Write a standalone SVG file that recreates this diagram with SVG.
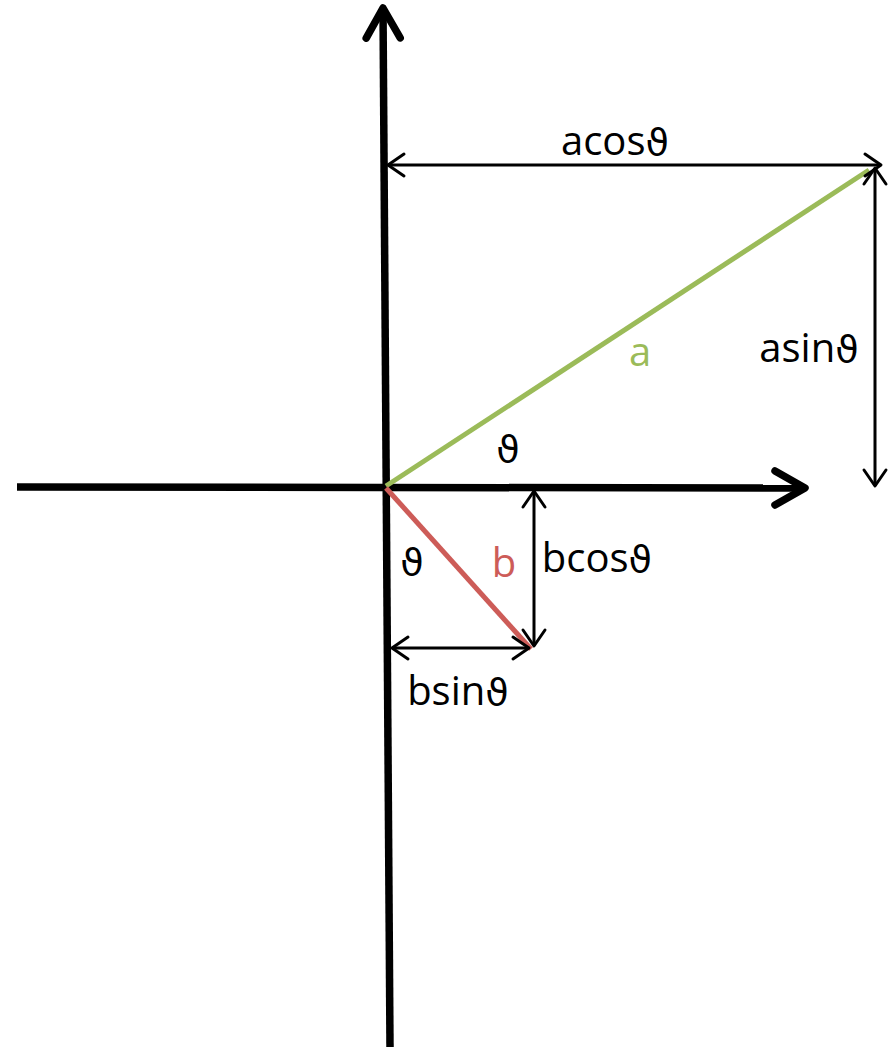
<svg xmlns="http://www.w3.org/2000/svg" width="896" height="1050" viewBox="0 0 896 1050">
<style>
.axis{stroke:#000;stroke-width:7.5;fill:none}
.dim{stroke:#000;stroke-width:3;fill:none}
.t{font-family:"Open Sans","DejaVu Sans",sans-serif;font-size:40px;fill:#000}
.th{font-family:"DejaVu Sans",sans-serif;font-size:38px}
</style>
<defs>
<marker id="ah" markerUnits="userSpaceOnUse" viewBox="-40 -25 50 50" markerWidth="50" markerHeight="50" refX="0" refY="0" orient="auto" overflow="visible">
<path d="M-30,-17 L0,0 L-30,17" fill="none" stroke="#000" stroke-width="7.5" stroke-linecap="round" stroke-linejoin="round"/>
</marker>
<marker id="dh" markerUnits="userSpaceOnUse" viewBox="-20 -15 25 30" markerWidth="25" markerHeight="30" refX="0" refY="0" orient="auto-start-reverse" overflow="visible">
<path d="M-16,-11 L0,0 L-16,11" fill="none" stroke="#000" stroke-width="3" stroke-linecap="round" stroke-linejoin="round"/>
</marker>
</defs>
<g id="connectors">
<line id="x-axis" class="axis" x1="17" y1="487" x2="805" y2="488" marker-end="url(#ah)"/>
<line id="y-axis" class="axis" x1="390" y1="1047" x2="383" y2="8" marker-end="url(#ah)"/>
<line id="vec-a" x1="386" y1="486" x2="869" y2="170" stroke="#9bbb59" stroke-width="5"/>
<line id="vec-b" x1="386" y1="488" x2="531" y2="649" stroke="#cd5c58" stroke-width="5"/>
<line id="dim-acos" class="dim" x1="388" y1="165" x2="881" y2="165" marker-start="url(#dh)" marker-end="url(#dh)"/>
<line id="dim-asin" class="dim" x1="875" y1="168" x2="875" y2="486" marker-start="url(#dh)" marker-end="url(#dh)"/>
<line id="dim-bcos" class="dim" x1="534" y1="491" x2="534" y2="646" marker-start="url(#dh)" marker-end="url(#dh)"/>
<line id="dim-bsin" class="dim" x1="392" y1="648" x2="529" y2="648" marker-start="url(#dh)" marker-end="url(#dh)"/>
</g>
<g id="label-acos"><text class="t" x="615" y="155" text-anchor="middle">acos<tspan class="th">ϑ</tspan></text></g>
<g id="label-asin"><text class="t" x="809" y="362" text-anchor="middle">asin<tspan class="th">ϑ</tspan></text></g>
<g id="label-a"><text class="t" x="640" y="366" text-anchor="middle" style="fill:#9bbb59">a</text></g>
<g id="label-theta-a"><text class="t" x="508" y="462" text-anchor="middle"><tspan class="th">ϑ</tspan></text></g>
<g id="label-theta-b"><text class="t" x="412" y="575" text-anchor="middle"><tspan class="th">ϑ</tspan></text></g>
<g id="label-b"><text class="t" x="504" y="577" text-anchor="middle" style="fill:#cd5c58">b</text></g>
<g id="label-bcos"><text class="t" x="597" y="572" text-anchor="middle">bcos<tspan class="th">ϑ</tspan></text></g>
<g id="label-bsin"><text class="t" x="458" y="705" text-anchor="middle">bsin<tspan class="th">ϑ</tspan></text></g>
</svg>
